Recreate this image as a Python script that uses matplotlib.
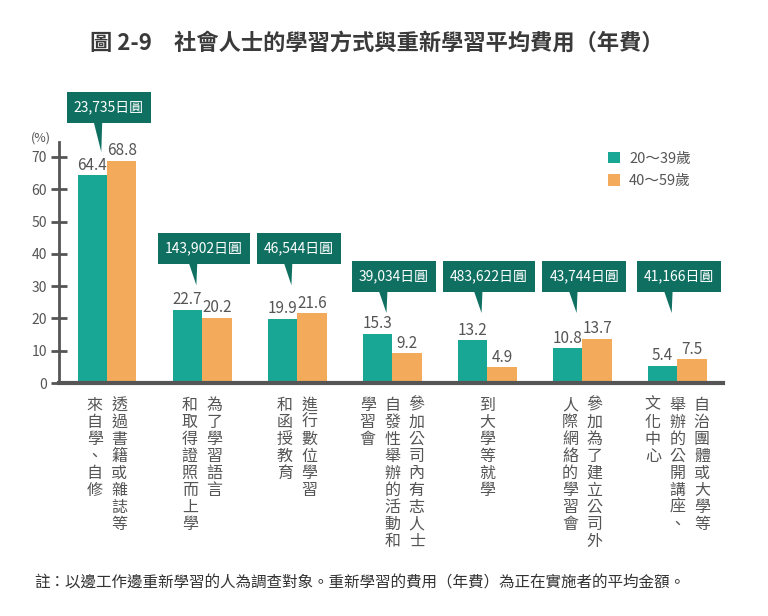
import matplotlib
matplotlib.use("Agg")
import matplotlib.pyplot as plt
from matplotlib.patches import Rectangle, Polygon
import numpy as np

plt.rcParams['font.family'] = ['Noto Sans CJK TC', 'DejaVu Sans']

# ---------------- data ----------------
categories = [
    ["透過書籍或雜誌等", "來自學、自修"],
    ["為了學習語言", "和取得證照而上學"],
    ["進行數位學習", "和函授教育"],
    ["參加公司內有志人士", "自發性舉辦的活動和", "學習會"],
    ["到大學等就學"],
    ["參加為了建立公司外", "人際網絡的學習會"],
    ["自治團體或大學等", "舉辦的公開講座、", "文化中心"],
]
series_names = ["20～39歲", "40～59歲"]
young = [64.4, 22.7, 19.9, 15.3, 13.2, 10.8, 5.4]
older = [68.8, 20.2, 21.6, 9.2, 4.9, 13.7, 7.5]
fees = ["23,735日圓", "143,902日圓", "46,544日圓", "39,034日圓",
        "483,622日圓", "43,744日圓", "41,166日圓"]
yticks = [0, 10, 20, 30, 40, 50, 60, 70]
title = "圖 2-9　社會人士的學習方式與重新學習平均費用（年費）"
note = "註：以邊工作邊重新學習的人為調查對象。重新學習的費用（年費）為正在實施者的平均金額。"

# ---------------- layout / style ----------------
callout_mid = [85.3, 41.8, 41.8, 33.0, 33.0, 33.0, 33.0]
callout_tip = [71.5, 30.3, 30.3, 21.7, 21.7, 21.7, 21.7]
TEAL = "#19a795"
ORANGE = "#f4aa5b"
DARK = "#0f7062"
GRAY = "#555555"

fig = plt.figure(figsize=(7.68, 6.16), dpi=100)
ax = fig.add_axes([0.0768, 0.378, 0.8646, 0.3915])
x = np.arange(len(categories))
w = 0.31
b1 = ax.bar(x - w / 2, young, w, color=TEAL, label=series_names[0], zorder=2)
b2 = ax.bar(x + w / 2, older, w, color=ORANGE, label=series_names[1], zorder=2)

ax.set_xlim(-0.505, 6.48)
ax.set_ylim(0, 74.6)
ax.set_yticks(yticks)
ax.set_xticks([])
for s in ["top", "right"]:
    ax.spines[s].set_visible(False)
ax.spines["left"].set_color(GRAY)
ax.spines["left"].set_linewidth(2)
ax.spines["bottom"].set_color(GRAY)
ax.spines["bottom"].set_linewidth(3)
ax.tick_params(axis="y", direction="inout", length=11, width=2, color=GRAY,
               labelcolor=GRAY, labelsize=10, pad=3)

# value labels
for xi, v in zip(x, young):
    ax.annotate(f"{v}", (xi - w / 2, v), xytext=(0, 1), textcoords="offset points",
                ha="center", va="bottom", fontsize=11, color=GRAY)
for xi, v in zip(x, older):
    ax.annotate(f"{v}", (xi + w / 2, v), xytext=(0, 1), textcoords="offset points",
                ha="center", va="bottom", fontsize=11, color=GRAY)

# vertical category labels
px = 0.72  # points per pixel
col_gap = 24.5
for xi, cols in zip(x, categories):
    n = len(cols)
    for ci, col in enumerate(cols):
        dx = ((n - 1) / 2 - ci) * col_gap
        for k, ch in enumerate(col):
            ax.annotate(ch, (xi, 0), xytext=(dx * px, -(22 + 17 * k) * px),
                        textcoords="offset points", ha="center", va="center",
                        fontsize=11.5, color=GRAY, annotation_clip=False)

# callouts
texts = []
for xi, label, ym in zip(x, fees, callout_mid):
    t = ax.text(xi + 0.02, ym, label, ha="center", va="center", color="white",
                fontsize=10, zorder=6, clip_on=False)
    texts.append(t)

fig.canvas.draw()
r = fig.canvas.get_renderer()
inv = ax.transData.inverted()
for xi, t, ym, tip in zip(x, texts, callout_mid, callout_tip):
    bb = t.get_window_extent(r)
    cx, cy = ax.transData.transform((xi + 0.02, ym))
    wpx = bb.width + 14
    hpx = 31
    (x0, y0) = inv.transform((cx - wpx / 2, cy - hpx / 2))
    (x1, y1) = inv.transform((cx + wpx / 2, cy + hpx / 2))
    ax.add_patch(Rectangle((x0, y0), x1 - x0, y1 - y0, color=DARK, zorder=5,
                           clip_on=False, lw=0))
    tx = xi - 0.06
    ax.add_patch(Polygon([(tx - 0.08, y0 + 0.3), (tx + 0.01, y0 + 0.3), (tx, tip)],
                         closed=True, color=DARK, zorder=5, clip_on=False, lw=0))

# legend
ax.legend(handles=[b1, b2], loc="upper left", bbox_to_anchor=(0.782, 0.766),
          bbox_transform=fig.transFigure, frameon=False, fontsize=10.5,
          handlelength=0.85, handleheight=0.85, handletextpad=0.6,
          labelspacing=0.6, borderpad=0, labelcolor=GRAY)

fig.text(0.053, 0.776, "(%)", ha="center", va="center", fontsize=9, color=GRAY)
fig.text(0.49, 0.930, title, ha="center", va="center", fontsize=16,
         fontweight="bold", color="#3a3a3a")
fig.text(0.044, 0.0536, note, ha="left", va="center", fontsize=11.2, color="#333333")

fig.savefig("out.png", dpi=100)
